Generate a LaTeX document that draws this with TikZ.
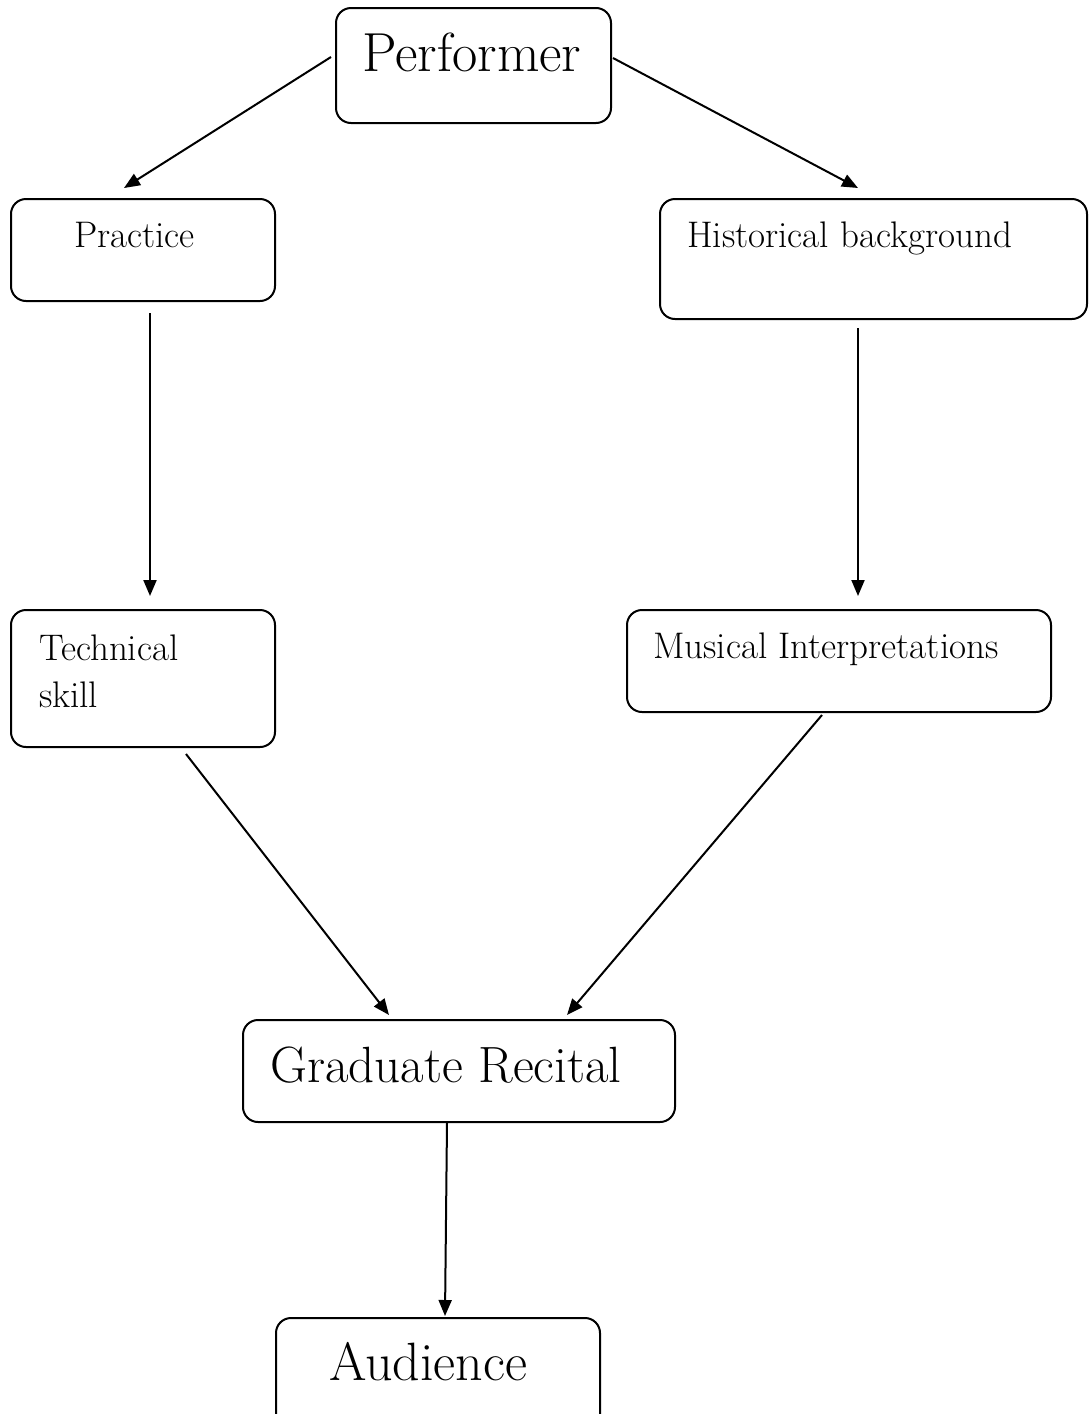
\documentclass[tikz,border=0pt]{standalone}
\usepackage{fontspec}
\usetikzlibrary{arrows.meta,calc}
\begin{document}
\begin{tikzpicture}[x=1pt,y=-1pt,
  box/.style={draw, line width=2pt, rounded corners=15pt, inner sep=0pt, outer sep=0pt, anchor=north west},
  conn/.style={line width=2pt, -{Triangle[length=16pt,width=13pt]}},
  txt/.style={anchor=base west, inner sep=0pt},
  big/.style={font=\fontsize{55}{66}\selectfont},
  mid/.style={font=\fontsize{51}{61}\selectfont},
  aud/.style={font=\fontsize{54}{64}\selectfont},
  small/.style={font=\fontsize{37}{44}\selectfont}]
\path[use as bounding box, clip] (0,0) rectangle (1089,1414);

% boxes
\node[box, minimum width=275pt, minimum height=115pt] (perf) at (336,8) {};
\node[box, minimum width=264pt, minimum height=102pt] (prac) at (11,199) {};
\node[box, minimum width=427pt, minimum height=120pt] (hist) at (660,199) {};
\node[box, minimum width=264pt, minimum height=137pt] (tech) at (11,610) {};
\node[box, minimum width=424pt, minimum height=102pt] (mus) at (627,610) {};
\node[box, minimum width=432pt, minimum height=102pt] (grad) at (243,1020) {};
\node[box, minimum width=324pt, minimum height=130pt] (aud) at (276,1318) {};

% texts
\node[txt, big] (perfT) at (362,71) {Performer};
\node[txt, small] (pracT) at (74,247) {Practice};
\node[txt, small] (histT) at (687,247) {Historical background};
\node[txt, small] (techT) at (39,660) {Technical};
\node[txt, small] (techT2) at (39,707) {skill};
\node[txt, small] (musT) at (653,658) {Musical Interpretations};
\node[txt, mid] (gradT) at (270,1082) {Graduate Recital};
\node[txt, aud] (audT) at (329,1380) {Audience};

% connectors
\draw[conn] ($(perf.north west)+(-5,49)$) -- ($(prac.north west)+(113,-11)$);
\draw[conn] ($(perf.north east)+(2,50)$) -- ($(hist.north west)+(198,-11)$);
\draw[conn] ($(prac.south west)+(139,12)$) -- ($(tech.north west)+(139,-14)$);
\draw[conn] ($(hist.south west)+(198,9)$) -- ($(mus.north west)+(231,-14)$);
\draw[conn] ($(tech.south west)+(175,7)$) -- ($(grad.north west)+(146,-5)$);
\draw[conn] ($(mus.south west)+(195,3)$) -- ($(grad.north east)+(-108,-5)$);
\draw[conn] ($(grad.south west)+(204,1)$) -- ($(aud.north west)+(169,-2)$);
\end{tikzpicture}
\end{document}
